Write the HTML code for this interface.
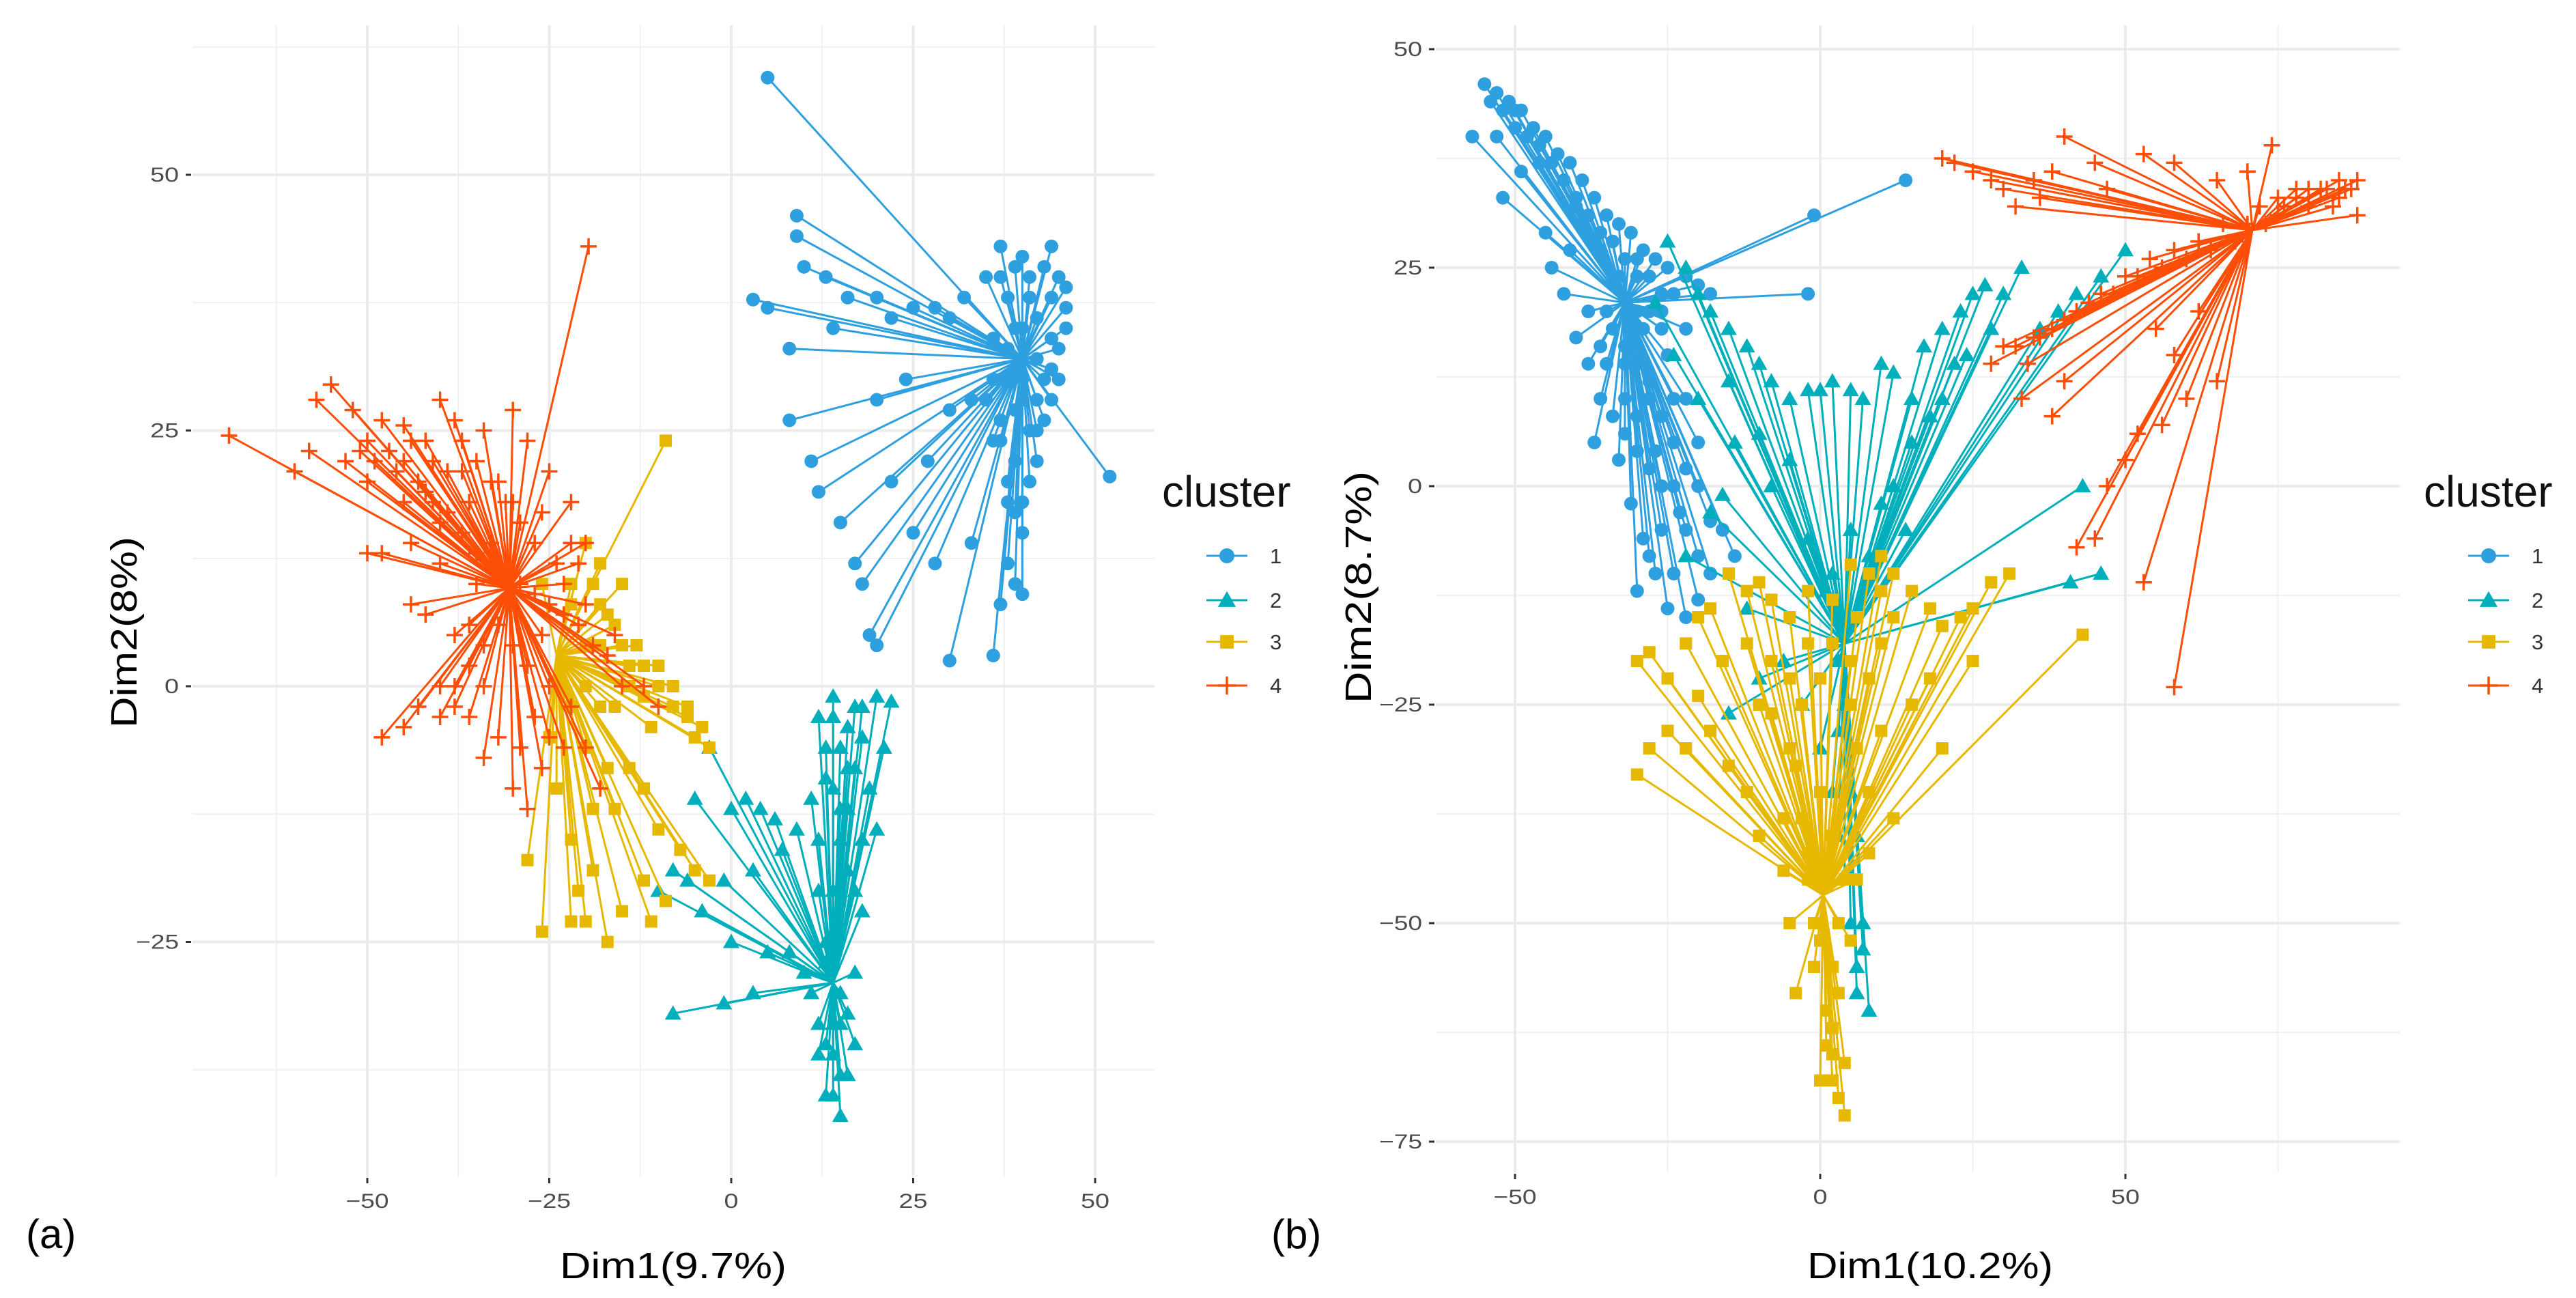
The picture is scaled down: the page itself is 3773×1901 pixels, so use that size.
<!DOCTYPE html>
<html><head><meta charset="utf-8"><style>
html,body{margin:0;padding:0;background:#fff;}
svg{display:block;}
text{font-family:"Liberation Sans",sans-serif;}
</style></head><body>
<svg id="fig" width="3773" height="1901" viewBox="0 0 3773 1901" xmlns="http://www.w3.org/2000/svg">
<g id="pa"></g>
<g id="pb"></g>
</svg>
<script>
// ---------- Panel (a) data ----------
const aCentroids = [[40,32],[14,-29],[-24,3],[-30.5,9.6]];
const aC1 = [[5,59.5],[3,37.8],[5,37],[9,46],[9,44],[10,41],[13,40],[16,38],[20,38],[8,33],[14,35],[22,36],[25,37],[28,37],[30,36],[32,38],[35,40],[37,43],[40,42],[44,43],[52,20.5],[8,26],[11,22],[12,19],[15,16],[17,12],[18,10],[19,5],[20,4],[22,20],[25,15],[28,12],[30,2.5],[36,3],[37,8],[33,14],[27,22],[30,27],[33,28],[24,30],[20,28],[38,18],[40,15],[42,22],[36,34],[38,30],[40,28],[42,36],[44,38],[46,37],[45,33],[43,30],[41,25],[39,22],[38,20],[40,18],[42,28],[44,34],[46,39],[45,30],[37,26],[36,24],[39,35],[41,38],
[37,40],[38,38],[39,41],[41,40],[43,41],[45,40],[46,35],[44,31],[42,32],[40,30],[39,27],[37,30],[38,33],[40,35],[42,25],[41,20],[39,17],[38,12],[39,10],[40,9],[37,24],[36,30],[35,28],[43,26],[44,28]];
const aC2 = [[20,-1],[22,-1.5],[17,-2],[14,-1],[12,-3],[18,-5],[21,-6],[16,-8],[13,-6],[19,-10],[15,-12],[11,-11],[20,-14],[9,-14],[6,-13],[4,-12],[2,-11],[0,-12],[-3,-6],[-5,-11],[7,-16],[3,-18],[-1,-19],[-8,-18],[-6,-19],[-10,-20],[-4,-22],[0,-25],[5,-26],[8,-26],[-1,-31],[-8,-32],[3,-30],[10,-28],[12,-20],[14,-24],[16,-18],[18,-22],[17,-28],[12,-33],[14,-36],[16,-38],[13,-40],[15,-42],[17,-35],[11,-30],[15,-30],[13,-27],[16,-4],[18,-15],[14,-10],
[13,-25],[14,-20],[15,-15],[16,-12],[17,-8],[15,-6],[14,-3],[13,-9],[12,-15],[14,-33],[13,-35],[15,-38],[14,-40],[16,-32],[12,-36],[15,-33],[17,-20],[18,-2]];
const aC3 = [[-9,24],[-20,14],[-18,12],[-15,10],[-22,8],[-16,6],[-13,4],[-10,2],[-8,0],[-6,-2],[-4,-4],[-3,-6],[-5,-5],[-12,-1],[-18,-2],[-20,-6],[-14,-8],[-16,-12],[-12,-10],[-10,-14],[-7,-16],[-3,-19],[-5,-18],[-9,-21],[-12,-19],[-15,-22],[-17,-25],[-20,-23],[-22,-23],[-26,-24],[-28,-17],[-22,-15],[-19,-18],[-24,-10],[-25,-5],[-26,10],[-20,4],[-17,-8],[-11,-23],[-14,2],[-11,-4],[-18,8],
[-22,10],[-19,10],[-17,7],[-15,4],[-12,2],[-10,0],[-8,-2],[-6,-3],[-14,0],[-16,-2],[-18,4],[-20,0],[-22,-2],[-19,-12],[-21,-20]];
const aC4 = [[-69,24.5],[-55,29.5],[-57,28],[-52,27],[-48,26],[-45,25.5],[-42,24],[-40,28],[-38,26],[-34,25],[-30,27],[-28,24],[-25,21],[-22,18],[-20,14],[-19.6,43],[-50,20],[-53,22],[-58,23],[-60,21],[-48,13],[-50,13],[-44,8],[-42,7],[-48,-5],[-45,-4],[-43,-2],[-40,-3],[-38,-2],[-36,-3],[-34,-7],[-30,-10],[-28,-12],[-26,-8],[-23,-6],[-20,-6],[-18,-10],[-15,0],[-12,0],[-10,-2],[-16,5],[-20,8],[-38,5],[-35,10],[-40,16],[-36,18],[-33,14],[-26,5],[-25,0],[-32,-5],[-40,12],[-30,18],[-45,18],[-50,24],[-46,21],[-42,19],[-37,21],[-32,20],[-28,2],[-34,0],[-40,0],[-22,-2],[-30,4],[-44,14],[-36,6],
[-45,22],[-43,20],[-41,18],[-39,17],[-37,15],[-35,13],[-33,12],[-31,11],[-29,10],[-27,9],[-25,8],[-23,7],[-21,6],[-19,4],[-17,3],[-27,14],[-29,16],[-31,18],[-33,20],[-35,22],[-37,24],[-32,6],[-34,4],[-36,2],[-38,0],[-27,-3],[-25,-5],[-29,-6],[-24,12],[-22,14],[-47,23],[-49,22],[-51,23],[-44,24],[-41,22],[-39,21],[-26,17],[-23,10],[-21,12]];
const aXTicks = [-50,-25,0,25,50];
const aYTicks = [50,25,0,-25];
// ---------- Panel (b) data ----------
const bCentroids = [[-32,21],[4,-18],[0.5,-46.8],[70.8,29.3]];
const bC1 = [[-55,46],[-53,45],[-51,44],[-49,43],[-47,41],[-45,40],[-43,38],[-41,37],[-39,35],[-37,33],[-35,31],[-33,30],[-31,29],[-29,27],[-27,26],[-25,25],[-22,24],[-20,23],[-18,22],[-57,40],[-53,40],[-49,36],[-52,33],[-45,29],[-44,25],[-41,27],[-40,17],[-38,14],[-36,10],[-37,5],[-33,3],[-31,-2],[-29,-6],[-27,-10],[-25,-14],[-22,-15],[-20,-13],[-18,-10],[-26,0],[-24,5],[-22,10],[-28,12],[-30,8],[-34,18],[-25,15],[-20,5],[-16,-5],[-30,-12],[-14,-8],[-2,22],[14,35],[-1,31],[-23,-3],[-28,-8],[-35,20],[-42,22],[-38,20],[-32,16],[-26,20],[-30,24],[-50,41],[-46,37],[-40,32],[-36,27],[-33,24],[-29,18],[-27,4],[-32,10],[-35,14],
[-54,44],[-52,43],[-50,43],[-48,40],[-46,39],[-44,37],[-42,35],[-40,33],[-38,31],[-36,29],[-34,28],[-32,26],[-30,26],[-28,24],[-26,22],[-24,22],[-30,20],[-28,20],[-26,18],[-32,14],[-30,14],[-28,10],[-26,8],[-24,0],[-22,-5],[-20,-8],[-24,-10],[-26,-5],[-28,2],[-30,4],[-32,6],[-34,8],[-36,16],[-22,2],[-20,0],[-18,-4],[-22,18],[-24,10]];
const bC2 = [[-25,28],[-22,25],[-20,22],[-18,20],[-15,18],[-12,16],[-10,14],[-8,12],[-5,10],[-2,11],[0,11],[2,12],[5,11],[7,10],[10,14],[12,13],[15,10],[17,16],[20,18],[23,20],[25,22],[27,23],[30,22],[33,25],[36,18],[39,20],[42,22],[46,24],[50,27],[43,0],[46,-10],[41,-11],[-22,-8],[-18,-3],[-16,-1],[-15,-26],[-10,-22],[-6,-20],[-12,-14],[-3,-25],[0,-30],[2,-35],[3,-40],[4,-45],[5,-50],[6,-55],[8,-60],[7,-53],[3,-28],[-27,21],[-20,10],[-14,5],[-8,0],[-24,15],[28,18],[22,14],[18,8],[10,-2],[14,-5],
[2,-10],[3,-20],[4,-25],[5,-35],[6,-40],[5,-45],[7,-50],[6,-58],[4,-15],[5,-5],[8,-8],[1,-12],[-2,-6],[12,0],[15,5],[20,10],[24,15],[-5,3],[-10,6],[-15,12]];
const bC3 = [[-30,-20],[-28,-19],[-25,-22],[-22,-18],[-20,-15],[-18,-14],[-15,-10],[-12,-12],[-10,-11],[-8,-13],[-5,-15],[-2,-12],[2,-13],[5,-9],[8,-10],[10,-8],[12,-10],[15,-12],[18,-14],[20,-16],[23,-15],[25,-14],[28,-11],[31,-10],[43,-17],[-28,-30],[-30,-33],[-25,-28],[-22,-30],[-18,-28],[-15,-32],[-12,-35],[-8,-26],[-5,-30],[-3,-38],[-10,-40],[-6,-44],[-5,-50],[-1,-55],[1,-60],[2,-65],[3,-70],[4,-72],[0,-68],[-1,-50],[5,-52],[10,-28],[15,-25],[20,-30],[12,-38],[8,-42],[18,-22],[25,-20],[-16,-20],[-20,-24],[5,-20],[0,-22],[-4,-58],[2,-62],[6,-45],[-2,-42],
[-8,-20],[-5,-22],[-2,-18],[2,-18],[5,-25],[8,-22],[10,-18],[12,-15],[-3,-25],[0,-35],[2,-40],[4,-45],[-2,-45],[3,-50],[0,-52],[2,-55],[3,-58],[1,-64],[2,-68],[4,-66],[-4,-32],[6,-30],[8,-35],[-6,-38],[10,-12],[-12,-18],[-10,-25],[6,-15]];
const bC4 = [[20,37.5],[22,37],[25,36],[28,35],[30,34],[32,32],[35,35],[38,36],[40,40],[36,33],[45,37],[47,34],[53,38],[58,37],[65,35],[74,39],[70,36],[78,34],[82,34],[86,34],[88,35],[88,31],[85,33],[80,32],[75,31],[30,16],[28,14],[32,16],[35,17],[38,18],[40,19],[44,21],[48,22],[52,24],[56,25],[60,26],[64,27],[68,28],[33,10],[38,8],[40,12],[42,-7],[45,-6],[47,0],[50,3],[52,6],[56,7],[53,-11],[58,-23],[60,10],[65,12],[58,15],[62,20],[55,18],
[72,32],[75,33],[78,33],[80,34],[83,34],[85,35],[87,34],[84,32],[76,32],[73,30],[70,30],[66,30],[62,28],[58,27],[54,26],[50,24],[46,22],[42,20],[36,17],[34,14]];
const bXTicks = [-50,0,50];
const bYTicks = [50,25,0,-25,-50,-75];
const clusterLabels = ["1","2","3","4"];
const colors = ["#2E9FDF","#00AFBB","#E7B800","#FC4E07"];

const NS = "http://www.w3.org/2000/svg";
function mk(tag, attrs, parent){ const e=document.createElementNS(NS,tag); for(const k in attrs) e.setAttribute(k,attrs[k]); parent.appendChild(e); return e; }

function marker(g, k, cx, cy, s){
  let m;
  if(k===0){ m = mk("circle",{cx:cx,cy:cy,r:10*s,fill:colors[0]},g); }
  else if(k===1){ const h=12*s; m = mk("polygon",{points:`${cx},${cy-h} ${cx-h},${cy+h*0.75} ${cx+h},${cy+h*0.75}`,fill:colors[1]},g); }
  else if(k===2){ const h=9*s; m = mk("rect",{x:cx-h,y:cy-h,width:2*h,height:2*h,fill:colors[2]},g); }
  else { const h=12*s; m = mk("path",{d:`M${cx-h},${cy}H${cx+h}M${cx},${cy-h}V${cy+h}`,stroke:colors[3],"stroke-width":3.5,fill:"none"},g); }
  return m;
}

function panel(g, cfg){
  const X=cfg.x, Y=cfg.y;
  cfg.xMinor.forEach(v=>{ const l=mk("line",{x1:X(v),x2:X(v),y1:cfg.top,y2:cfg.bottom,stroke:"#f0f0f0","stroke-width":2},g);
    
     });
  cfg.yMinor.forEach(v=>{ const l=mk("line",{x1:cfg.left,x2:cfg.right,y1:Y(v),y2:Y(v),stroke:"#f0f0f0","stroke-width":2},g);
    
     });
  cfg.xTicks.forEach(v=>{ const l=mk("line",{x1:X(v),x2:X(v),y1:cfg.top,y2:cfg.bottom,stroke:"#ebebeb","stroke-width":4},g);
    
    
    const t=mk("line",{x1:X(v),x2:X(v),y1:cfg.bottom+2,y2:cfg.bottom+10,stroke:"#333","stroke-width":3},g);
    
    
    const s=String(v).replace('-','\u2212');
    const tx=mk("text",{x:X(v),y:cfg.bottom+46,"text-anchor":"middle","font-size":30,fill:"#4d4d4d",textLength:s.length*21,lengthAdjust:"spacingAndGlyphs"},g);
    tx.textContent=s;
    
     });
  cfg.yTicks.forEach(v=>{ const l=mk("line",{x1:cfg.left,x2:cfg.right,y1:Y(v),y2:Y(v),stroke:"#ebebeb","stroke-width":4},g);
    
    
    const t=mk("line",{x1:cfg.left-10,x2:cfg.left-2,y1:Y(v),y2:Y(v),stroke:"#333","stroke-width":3},g);
    
    
    const s=String(v).replace('-','\u2212');
    const tx=mk("text",{x:cfg.left-20,y:Y(v)+10,"text-anchor":"end","font-size":30,fill:"#4d4d4d",textLength:s.length*21,lengthAdjust:"spacingAndGlyphs"},g);
    tx.textContent=s;
    
     });
  cfg.series.forEach((pts,k)=>{
    const sg=mk("g",{},g);
    
    
    const c=cfg.centroids[k];
    pts.forEach(p=>{ const l=mk("line",{x1:X(c[0]),y1:Y(c[1]),x2:X(p[0]),y2:Y(p[1]),stroke:colors[k],"stroke-width":3},sg);
      
       });
    pts.forEach(p=>{ const m=marker(sg,k,X(p[0]),Y(p[1]),1);
      
       });
  });
  const xt=mk("text",{x:cfg.xTitleX,y:1872,"text-anchor":"middle","font-size":54,fill:"#000",textLength:cfg.xTitleLen,lengthAdjust:"spacingAndGlyphs"},g);
  xt.textContent=cfg.xTitle;
  
  
  const yt=mk("text",{x:0,y:0,"text-anchor":"middle","font-size":54,fill:"#000",textLength:cfg.yTitleLen,lengthAdjust:"spacingAndGlyphs",transform:`translate(${cfg.yTitleX},${cfg.yTitleY}) rotate(-90)`},g);
  yt.textContent=cfg.yTitle;
  
  
  const lg=mk("g",{},g);
  
  
  const lt=mk("text",{x:cfg.legX,y:742,"font-size":64,fill:"#111"},lg);
  lt.textContent="cluster";
  
  
  const keyY=[814,879,940,1004];
  clusterLabels.forEach((lab,k)=>{
    const eg=mk("g",{},lg);
    
    
    const kx=cfg.legX+65;
    mk("line",{x1:kx,x2:kx+60,y1:keyY[k],y2:keyY[k],stroke:colors[k],"stroke-width":3},eg);
    marker(eg,k,kx+30,keyY[k],1.1);
    const tx=mk("text",{x:kx+93,y:keyY[k]+11,"font-size":31,fill:"#333"},eg);
    tx.textContent=lab;
  });
  const tag=mk("text",{x:cfg.tagX,y:1828,"font-size":60,fill:"#000","font-family":"Liberation Serif, serif"},g);
  tag.textContent=cfg.tag;
  
  
}

panel(document.getElementById('pa'),{
  x:v=>1071+v*10.66, y:v=>1005-v*14.98,
  left:282,right:1691,top:37,bottom:1723,
  xTicks:aXTicks, yTicks:aYTicks,
  xMinor:[-62.5,-37.5,-12.5,12.5,37.5], yMinor:[62.5,37.5,12.5,-12.5,-37.5],
  series:[aC1,aC2,aC3,aC4], centroids:aCentroids,
  xTitle:"Dim1(9.7%)", xTitleX:986, xTitleLen:332,
  yTitle:"Dim2(8%)", yTitleX:200, yTitleY:926, yTitleLen:280,
  legX:1702, tag:"(a)", tagX:38
});
panel(document.getElementById('pb'),{
  x:v=>2666+v*8.94, y:v=>712-v*12.8,
  left:2103,right:3515,top:37,bottom:1717,
  xTicks:bXTicks, yTicks:bYTicks,
  xMinor:[-25,25,75], yMinor:[37.5,12.5,-12.5,-37.5,-62.5],
  series:[bC1,bC2,bC3,bC4], centroids:bCentroids,
  xTitle:"Dim1(10.2%)", xTitleX:2827, xTitleLen:360,
  yTitle:"Dim2(8.7%)", yTitleX:2008, yTitleY:860, yTitleLen:340,
  legX:3550, tag:"(b)", tagX:1862
});
</script>
</body></html>
